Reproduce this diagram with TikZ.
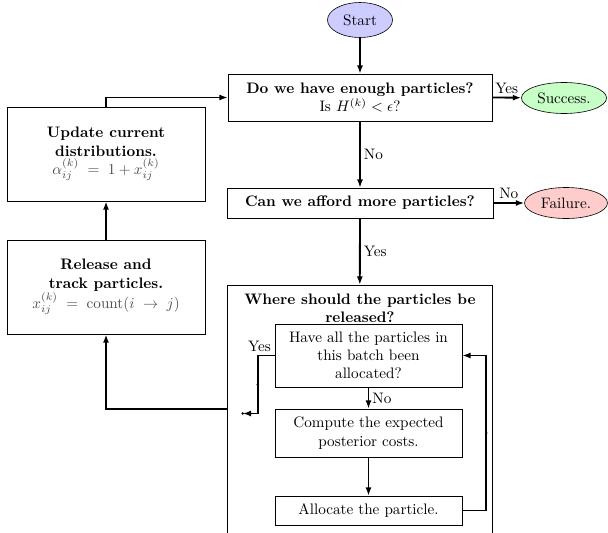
\documentclass[tikz,border=0pt]{standalone}
\usetikzlibrary{shapes.geometric,arrows.meta,calc}
\begin{document}
\begin{tikzpicture}[x=0.658pt,y=-0.658pt,
  term/.style={ellipse,draw,inner sep=1pt},
  box/.style={rectangle,draw,align=center,inner sep=2pt},
  flow/.style={line width=1.2pt,-{Latex[length=5.5pt,width=4pt]}},
  wire/.style={line width=1.2pt},
  tag/.style={inner sep=2pt}
]
\useasboundingbox (0,0) rectangle (608,532);
\clip (0,0) rectangle (608,532);

% terminals
\node[term,fill=blue!20,minimum width=42.8pt,minimum height=23pt] (start) at (360,20) {Start};
\node[term,fill=green!22,minimum width=56pt,minimum height=20.4pt] (success) at (564,98) {Success.};
\node[term,fill=red!20,minimum width=54.6pt,minimum height=20.4pt] (failure) at (566,203) {Failure.};

% main decisions
\node[box,minimum width=173.7pt,minimum height=30.9pt] (q1) at (360,97.5)
  {\textbf{Do we have enough particles?}\\ Is $H^{(k)} < \epsilon$?};
\node[box,minimum width=175pt,minimum height=19.7pt] (q2) at (360,203)
  {\textbf{Can we afford more particles?}};

% allocation block
\node[box,minimum width=174.4pt,minimum height=171pt] (big) at (359.5,415) {};
\node[align=center,inner sep=0pt] (bigtitle) at (360,308)
  {\textbf{Where should the particles be}\\ \textbf{released?}};
\node[box,minimum width=123pt,minimum height=41.5pt] (A) at (368.5,355.5)
  {Have all the particles in\\ this batch been\\ allocated?};
\node[box,minimum width=123pt,minimum height=31.6pt] (B) at (368.5,433)
  {Compute the expected\\ posterior costs.};
\node[box,minimum width=123pt,minimum height=19.1pt] (C) at (368.5,510.5)
  {Allocate the particle.};

% left column
\node[box,minimum width=130.3pt,minimum height=61.9pt] (update) at (106,154)
  {\textbf{Update current}\\ \textbf{distributions.}\\
   {\color{black!70}$\alpha_{ij}^{(k)} \;=\; 1 + x_{ij}^{(k)}$}};
\node[box,minimum width=130.3pt,minimum height=61.9pt] (release) at (106,287)
  {\textbf{Release and}\\ \textbf{track particles.}\\
   {\color{black!70}$x_{ij}^{(k)} \;=\; \mathrm{count}(i \;\to\; j)$}};

% connectors
\draw[flow] (start) -- (q1);
\draw[flow] (q1.east) -- node[above,tag] {Yes} (success);
\draw[flow] (q1) -- node[right,tag] {No} (q2);
\draw[flow] (q2.east) -- node[above,tag] {No} (failure);
\draw[flow] (q2) -- node[right,tag] {Yes} (big);

\draw[flow] (A) -- node[right,tag] {No} (B);
\draw[flow] (B) -- (C);
\draw[flow] (C.east) -- ++(24,0) coordinate (rc) |- (A.east);
\coordinate (rmid) at ($(rc)!0.5!(rc |- A.east)$);
\draw[wire,-{Latex[length=5.5pt,width=4pt]}] (A.west) -- ++(-17,0)
  node[pos=0.9,tag,anchor=south] {Yes} coordinate (lc)
  -- ++(0,58) coordinate (lb) -- ++(-15,0) coordinate (lend);
\fill (lend) circle (0.9pt);
\fill ($(lc)!0.5!(lb)$) circle (0.9pt);
\fill (rmid) circle (0.9pt);

\draw[flow] (big.west |- B.north) -| (release.south);
\draw[flow] (release) -- (update);
\draw[flow] (update.north) |- (q1.west);
\end{tikzpicture}
\end{document}
